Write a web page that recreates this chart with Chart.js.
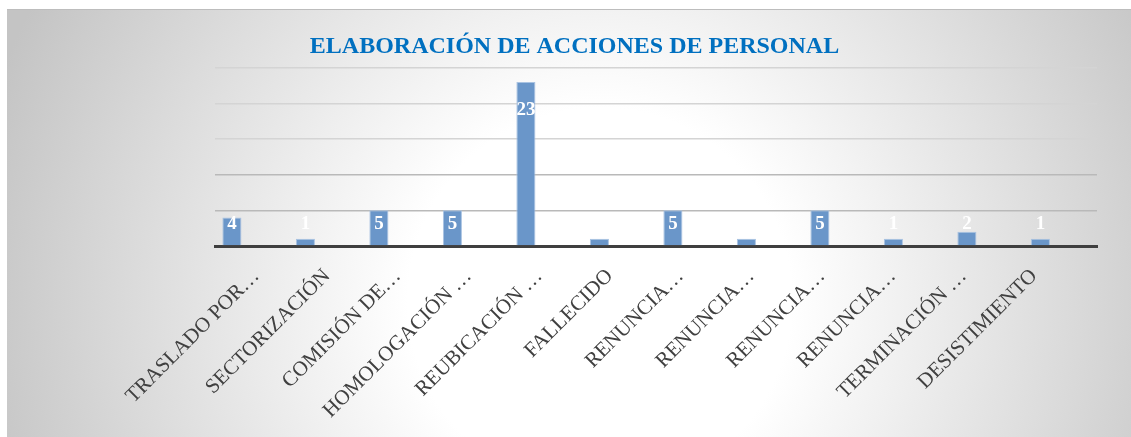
<!DOCTYPE html>
<html>
<head>
<meta charset="utf-8">
<script src="https://cdn.jsdelivr.net/npm/chart.js@4/dist/chart.umd.min.js"></script>
<style>
  html, body { margin: 0; padding: 0; background: #ffffff; }
  #wrap { width: 1131px; height: 437px; }
</style>
</head>
<body>
<div id="wrap"><canvas id="chart" width="1131" height="437"></canvas></div>
<script>
// Elaboración de acciones de personal - bar chart

// Data
const categories = [
    'TRASLADO POR…', 'SECTORIZACIÓN', 'COMISIÓN DE…', 'HOMOLOGACIÓN …',
    'REUBICACIÓN …', 'FALLECIDO', 'RENUNCIA…', 'RENUNCIA…',
    'RENUNCIA…', 'RENUNCIA…', 'TERMINACIÓN …', 'DESISTIMIENTO'
];
const values = [4, 1, 5, 5, 23, 1, 5, 1, 5, 1, 2, 1];
const chartTitle = 'ELABORACIÓN DE ACCIONES DE PERSONAL';

const serif = '"Liberation Serif", "DejaVu Serif", serif';

// Gray-to-white radial background inside the frame
const backgroundPlugin = {
    id: 'frameBackground',
    beforeDraw(chart) {
        const ctx = chart.ctx;
        const x0 = 7, y0 = 9;
        const w = chart.width - x0, h = chart.height - y0;
        ctx.save();
        const g = ctx.createRadialGradient(600, 300, 0, 600, 300, 640);
        g.addColorStop(0, '#ffffff');
        g.addColorStop(0.3, '#ffffff');
        g.addColorStop(1, '#c4c4c4');
        ctx.fillStyle = g;
        ctx.fillRect(x0, y0, w, h);
        ctx.fillStyle = '#bdbdbd';
        ctx.fillRect(x0, y0, w, 1);
        ctx.restore();
    }
};

// White value labels near the top of each bar
const valueLabelPlugin = {
    id: 'valueLabels',
    afterDatasetsDraw(chart) {
        const ctx = chart.ctx;
        const yScale = chart.scales.y;
        const meta = chart.getDatasetMeta(0);
        ctx.save();
        ctx.fillStyle = '#ffffff';
        ctx.font = 'bold 19px ' + serif;
        ctx.textAlign = 'center';
        ctx.textBaseline = 'middle';
        meta.data.forEach((bar, i) => {
            const v = values[i];
            const y = yScale.getPixelForValue(Math.max(v - 4, 3.1));
            ctx.fillText(String(v), bar.x, y);
        });
        ctx.restore();
    }
};

new Chart(document.getElementById('chart'), {
    type: 'bar',
    data: {
        datasets: [{
            data: values.map((v, i) => ({ x: i, y: v })),
            backgroundColor: '#6a96c9',
            borderColor: '#a9c3e2',
            borderWidth: 1,
            barPercentage: 0.27,
            categoryPercentage: 1
        }]
    },
    options: {
        responsive: false,
        animation: false,
        layout: {
            padding: { left: 18, right: 0, top: 9, bottom: 0 }
        },
        plugins: {
            legend: { display: false },
            tooltip: { enabled: false },
            title: {
                display: true,
                text: chartTitle,
                color: '#0070c0',
                font: { family: serif, size: 24, weight: 'bold', lineHeight: 1.2 },
                padding: { top: 23, bottom: 7 }
            }
        },
        scales: {
            x: {
                type: 'linear',
                min: -0.23,
                max: 11.77,
                offset: false,
                grid: { display: false },
                border: { color: '#3f3f3f', width: 3 },
                // category labels sit on a slightly tighter pitch than the bars
                afterBuildTicks(axis) {
                    axis.ticks = categories.map((_, i) => ({ value: 0.332 + 0.962 * i }));
                },
                ticks: {
                    minRotation: 45,
                    maxRotation: 45,
                    autoSkip: false,
                    color: '#404040',
                    font: { family: serif, size: 21 },
                    labelOffset: 0,
                    padding: 10,
                    callback: (v, i) => categories[i]
                },
                afterFit(axis) { axis.height = 191; }
            },
            y: {
                min: 0,
                max: 25,
                ticks: { display: false, stepSize: 5 },
                border: { display: false },
                grid: {
                    color: (c) => (c.tick && c.tick.value <= 10 ? '#b9b9b9' : '#d4d4d4'),
                    lineWidth: 1.5,
                    drawTicks: false
                },
                afterFit(axis) { axis.width = 197; }
            },
            yRight: {
                position: 'right',
                display: true,
                ticks: { display: false },
                border: { display: false },
                grid: { display: false, drawTicks: false },
                afterFit(axis) { axis.width = 34; }
            }
        }
    },
    plugins: [backgroundPlugin, valueLabelPlugin]
});
</script>
</body>
</html>
